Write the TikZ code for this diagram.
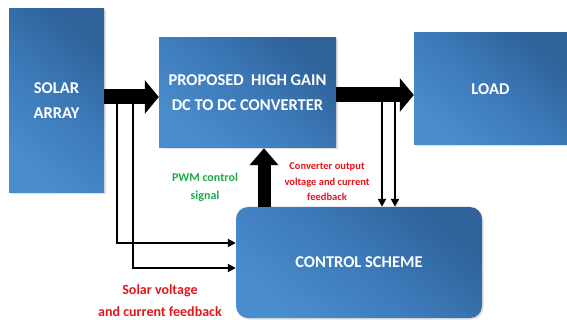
\documentclass[tikz,border=0pt]{standalone}
\usepackage{fontspec}
\setmainfont{Carlito}
\usetikzlibrary{arrows.meta,positioning,shadows}
\definecolor{boxlight}{HTML}{4A8DCD}
\definecolor{boxmid}{HTML}{3D7ABA}
\definecolor{boxdark}{HTML}{2E6299}
\definecolor{fbred}{HTML}{E3161D}
\definecolor{pwmgreen}{HTML}{1FAA4A}

\begin{document}
\begin{tikzpicture}[x=1pt, y=-1pt,
  block/.style={top color=boxdark, bottom color=boxlight, middle color=boxmid, shading angle=-40,
    text=white, align=center, inner sep=0pt,
    font=\bfseries\fontsize{16.5}{25}\selectfont, drop shadow={opacity=0.25, shadow xshift=1.5pt, shadow yshift=-1.5pt}},
  bigarrow/.style={line width=15pt, -{Triangle[length=14pt,width=33pt]}},
  uparrow/.style={line width=13pt, -{Triangle[length=17pt,width=28pt]}},
  thinarrow/.style={line width=2pt, -{Triangle[length=8pt,width=8pt]}},
  note/.style={align=center, font=\bfseries\fontsize{10.5}{15.5}\selectfont}]
  \useasboundingbox (0,0) rectangle (567,320);
  % blocks
  \node [block, minimum width=95pt, minimum height=184pt] (solar) at (56.5,101) {SOLAR\\ARRAY};
  \node [block, minimum width=177pt, minimum height=110pt] (conv) at (247.5,93) {PROPOSED\ \ HIGH GAIN\\DC TO DC CONVERTER};
  \node [block, minimum width=153pt, minimum height=112pt] (load) at (490.5,89) {LOAD};
  \node [block, rounded corners=12pt, minimum width=246pt, minimum height=111pt] (ctrl) at (359,262.5) {CONTROL SCHEME};
  % tap points
  \coordinate (sv) at (117,97);
  \coordinate (si) at (133,97);
  \coordinate (cv) at (382,95);
  \coordinate (ci) at (395,95);
  \coordinate (pwm) at (264,0);
  \coordinate (svin) at (0,243);
  \coordinate (siin) at (0,268);
  % feedback lines
  \draw [thinarrow] (sv) |- (ctrl.west |- svin);
  \draw [thinarrow] (si) |- (ctrl.west |- siin);
  \draw [thinarrow] (cv) -- (ctrl.north -| cv);
  \draw [thinarrow] (ci) -- (ctrl.north -| ci);
  % power flow
  \draw [bigarrow] (solar.east |- sv) -- (conv.west |- sv);
  \draw [bigarrow] (conv.east |- cv) -- (load.west |- cv);
  \draw [uparrow] (ctrl.north -| pwm) -- (conv.south -| pwm);
  % labels
  \node [note, text=pwmgreen, font=\bfseries\fontsize{12}{18}\selectfont] (pwmlabel) at (205,187) {PWM control\\signal};
  \node [note, text=fbred] (convfb) at (327,182) {Converter output\\voltage and current\\feedback};
  \node [note, text=fbred, font=\bfseries\fontsize{14}{22}\selectfont] (solarfb) at (160,301) {Solar voltage\\and current feedback};
\end{tikzpicture}
\end{document}
